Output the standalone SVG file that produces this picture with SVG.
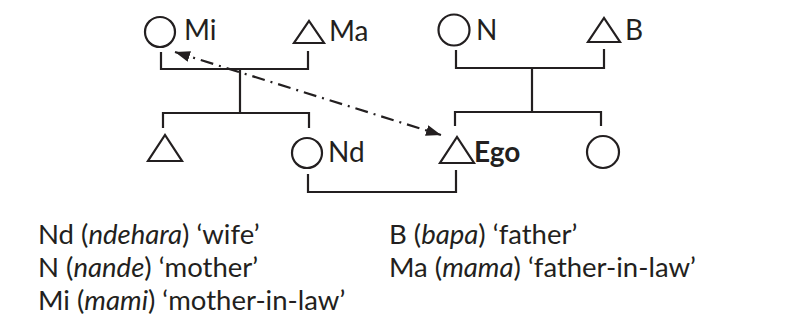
<svg xmlns="http://www.w3.org/2000/svg" width="803" height="328" viewBox="0 0 803 328">
<style>
.shape{fill:none;stroke:#231f20;stroke-width:2.2}
.conn{fill:none;stroke:#231f20;stroke-width:2.2}
.lbl{font-family:Lato,"Liberation Sans",sans-serif;font-size:28px;fill:#231f20}
.leg{font-family:Lato,"Liberation Sans",sans-serif;font-size:27.5px;fill:#231f20}
.b{font-weight:bold}
.i{font-style:italic}
</style>
<defs>
<marker id="ah" viewBox="0 0 15 11" refX="15" refY="5.5" markerWidth="15" markerHeight="11" markerUnits="userSpaceOnUse" orient="auto-start-reverse">
<path d="M0,0 L15,5.5 L0,11 z" fill="#231f20"/>
</marker>
</defs>
<rect width="803" height="328" fill="#ffffff"/>
<g id="connectors">
<path class="conn" d="M161,52 V69 H308 V51"/>
<path class="conn" d="M240,69 V113"/>
<path class="conn" d="M163,128 V113 H309 V128"/>
<path class="conn" d="M456,50 V68 H604 V49"/>
<path class="conn" d="M532,68 V112"/>
<path class="conn" d="M455,126 V112 H601 V126"/>
<path class="conn" d="M308,174 V192 H456 V170"/>
<line class="conn" x1="175" y1="52" x2="441" y2="135" stroke-dasharray="13 6 2 6" marker-start="url(#ah)" marker-end="url(#ah)"/>
</g>
<g id="Mi"><circle class="shape" cx="160" cy="32" r="15"/><text class="lbl" x="184" y="40">Mi</text></g>
<g id="Ma"><polygon class="shape" points="294,43 324,43 309,21"/><text class="lbl" x="329" y="41">Ma</text></g>
<g id="N"><circle class="shape" cx="454" cy="30" r="15.5"/><text class="lbl" x="476" y="40">N</text></g>
<g id="B"><polygon class="shape" points="588,42 620,42 604,18"/><text class="lbl" x="625" y="40">B</text></g>
<g id="brother"><polygon class="shape" points="148,161 182,161 165,135"/></g>
<g id="Nd"><circle class="shape" cx="307" cy="153" r="15"/><text class="lbl" x="328" y="162">Nd</text></g>
<g id="Ego"><polygon class="shape" points="440,163 474,163 457,137"/><text class="lbl b" x="474" y="162">Ego</text></g>
<g id="sister"><circle class="shape" cx="603" cy="152" r="16"/></g>
<g id="legend">
<text class="leg" x="38" y="244">Nd (<tspan class="i">ndehara</tspan>) ‘wife’</text>
<text class="leg" x="38" y="277">N (<tspan class="i">nande</tspan>) ‘mother’</text>
<text class="leg" x="38" y="310">Mi (<tspan class="i">mami</tspan>) ‘mother-in-law’</text>
<text class="leg" x="389" y="244">B (<tspan class="i">bapa</tspan>) ‘father’</text>
<text class="leg" x="389" y="277">Ma (<tspan class="i">mama</tspan>) ‘father-in-law’</text>
</g>
</svg>
